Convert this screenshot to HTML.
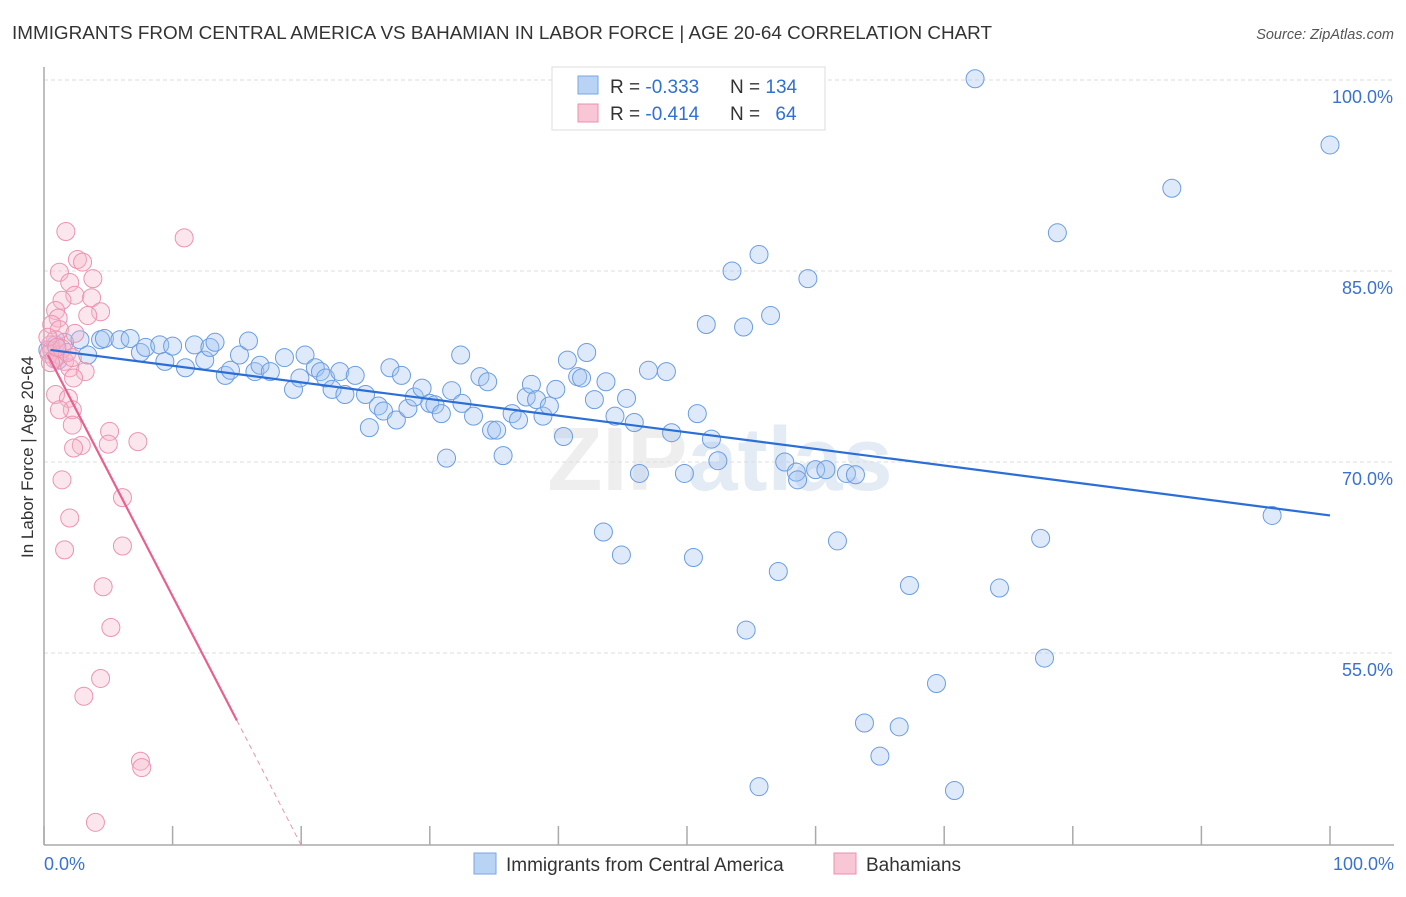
<!DOCTYPE html>
<html><head><meta charset="utf-8"><style>
body{margin:0;background:#fff;font-family:"Liberation Sans",sans-serif}
svg text{font-family:"Liberation Sans",sans-serif}
</style></head><body>
<svg width="1406" height="892" viewBox="0 0 1406 892">
<text x="12" y="39" font-size="18" fill="#333" textLength="980" lengthAdjust="spacingAndGlyphs">IMMIGRANTS FROM CENTRAL AMERICA VS BAHAMIAN IN LABOR FORCE | AGE 20-64 CORRELATION CHART</text>
<text x="1394" y="39" font-size="14.5" fill="#555" font-style="italic" text-anchor="end">Source: ZipAtlas.com</text>
<text x="720" y="490" font-size="90" fill="#eeeeee" text-anchor="middle" font-weight="bold">ZIP<tspan fill="#e3ebf5">atlas</tspan></text>
<g id="grid"></g><g id="axes"></g><g id="blue"></g><g id="pink"></g><g id="trends"></g>
<text transform="translate(33,457) rotate(-90)" font-size="17" fill="#333" text-anchor="middle">In Labor Force | Age 20-64</text>
<g>
<rect x="552" y="67" width="273" height="63" fill="#fff" stroke="#ddd"/>
<rect x="578" y="76" width="20" height="18" fill="#b9d3f5" stroke="#7aa6e3"/>
<rect x="578" y="104" width="20" height="18" fill="#f8c6d5" stroke="#ec8fae"/>
<text x="610" y="93" font-size="19" fill="#333">R = <tspan fill="#2f6fd6">-0.333</tspan></text>
<text x="730" y="93" font-size="19" fill="#333">N = <tspan fill="#2f6fd6">134</tspan></text>
<text x="610" y="120" font-size="19" fill="#333">R = <tspan fill="#2f6fd6">-0.414</tspan></text>
<text x="730" y="120" font-size="19" fill="#333">N = <tspan fill="#2f6fd6" dx="10">64</tspan></text>
</g>
<g>
<rect x="474" y="853" width="22" height="21" fill="#b9d3f5" stroke="#7aa6e3"/>
<text x="506" y="871" font-size="19" fill="#333">Immigrants from Central America</text>
<rect x="834" y="853" width="22" height="21" fill="#f8c6d5" stroke="#ec8fae"/>
<text x="866" y="871" font-size="19" fill="#333">Bahamians</text>
</g>
</svg>
<script>
const blueX=[72.4,100,87.7,78.8,55.6,53.5,59.4,51.5,54.4,56.5,0.9,1.6,2.8,4.4,4.7,5.9,6.7,7.5,7.9,9.0,9.4,10.0,11.0,11.7,12.5,12.9,13.3,14.1,14.5,15.2,15.9,16.4,16.8,17.6,18.7,19.4,19.9,20.3,21.1,21.5,21.9,22.4,23.0,23.4,24.2,25.0,25.3,26.0,26.4,26.9,27.4,27.8,28.3,28.8,29.4,30.0,30.4,30.9,31.3,31.7,32.5,32.4,33.4,33.9,34.5,34.8,35.2,35.7,36.4,36.9,37.5,37.9,38.3,38.8,39.3,39.8,40.4,40.7,41.5,41.8,42.2,42.8,43.5,43.7,44.4,44.9,45.3,45.9,46.3,47.0,48.4,48.8,49.8,50.5,50.8,51.9,52.4,54.6,55.6,57.1,57.6,58.5,58.6,60.0,60.8,61.7,62.4,63.1,63.8,65.0,66.5,67.3,69.4,70.8,74.3,77.5,77.8,95.5,47.7,49.2,0.3,1.1,3.4];
const blueY=[100.1,94.9,91.5,88.0,86.3,85.0,84.4,80.8,80.6,81.5,79.2,79.4,79.6,79.6,79.7,79.6,79.7,78.6,79.0,79.2,77.9,79.1,77.4,79.2,78.0,79.0,79.4,76.8,77.2,78.4,79.5,77.1,77.6,77.1,78.2,75.7,76.6,78.4,77.4,77.1,76.6,75.7,77.1,75.3,76.8,75.3,72.7,74.4,74.0,77.4,73.3,76.8,74.2,75.1,75.8,74.6,74.5,73.8,70.3,75.6,74.6,78.4,73.6,76.7,76.3,72.5,72.5,70.5,73.8,73.3,75.1,76.1,74.9,73.6,74.4,75.7,72.0,78.0,76.7,76.6,78.6,74.9,64.5,76.3,73.6,62.7,75.0,73.1,69.1,77.2,77.1,72.3,69.1,62.5,73.8,71.8,70.1,56.8,44.5,61.4,70.0,69.2,68.6,69.4,69.4,63.8,69.1,69.0,49.5,46.9,49.2,60.3,52.6,44.2,60.1,64.0,54.6,65.8,100.2,100.2,78.8,78.0,78.4];
const pinkX=[1.7,10.9,2.6,3.0,1.2,3.8,2.0,2.4,1.4,3.7,4.4,3.4,0.9,1.1,0.6,1.2,2.4,0.9,0.5,0.6,1.2,1.6,2.0,3.2,2.3,0.9,1.9,2.2,1.2,2.2,5.1,7.3,5.0,2.9,2.3,1.4,6.1,2.0,1.6,6.1,4.6,5.2,4.4,3.1,7.5,7.6,4.0,0.4,0.8,1.4,0.3,1.8,2.2,0.5,1.0];
const pinkY=[88.1,87.6,85.9,85.7,84.9,84.4,84.1,83.1,82.7,82.9,81.8,81.5,81.9,81.3,80.8,80.4,80.1,79.6,79.2,78.8,78.4,77.9,77.4,77.1,76.6,75.3,75.0,74.1,74.1,72.9,72.4,71.6,71.4,71.3,71.1,68.6,67.2,65.6,63.1,63.4,60.2,57.0,53.0,51.6,46.5,46.0,41.7,78.5,78.1,78.9,79.8,78.6,78.2,77.8,79.0];
const yTicks=[100,85,70,55];
const yTickLabels=["100.0%","85.0%","70.0%","55.0%"];
const xTicks=[0,10,20,30,40,50,60,70,80,90,100];
const blueTrend=[0.5,78.8,100,65.8];
const pinkTrendSolid=[0.3,78.4,15,49.7];
const pinkTrendDash=[15,49.7,20,39.9];

const NS="http://www.w3.org/2000/svg";
const sx=v=>44+v*12.86, sy=v=>80+(100-v)*12.733;
function mk(t,a,p){const e=document.createElementNS(NS,t);for(const k in a)e.setAttribute(k,a[k]);p.appendChild(e);return e;}
const grid=document.getElementById('grid'),axes=document.getElementById('axes');
yTicks.forEach((t,i)=>{
 const l=mk('line',{x1:44,x2:1394,y1:sy(t),y2:sy(t),stroke:'#ddd','stroke-dasharray':'4,3'},grid);
 
 
 const tx=mk('text',{x:1393,y:sy(t)+23,'font-size':18,fill:'#3a72d0','text-anchor':'end'},grid);
 tx.textContent=yTickLabels[i];
 
 
});
const ya=mk('line',{x1:44,x2:44,y1:67,y2:845,stroke:'#aaa','stroke-width':1.5},axes);


const xa=mk('line',{x1:44,x2:1394,y1:845,y2:845,stroke:'#aaa','stroke-width':1.5},axes);


xTicks.forEach(t=>{
 const l=mk('line',{x1:sx(t),x2:sx(t),y1:826,y2:845,stroke:'#aaa','stroke-width':1.5},axes);
 
 
});
[[0,'0.0%','start',44],[100,'100.0%','end',1394]].forEach(d=>{
 const tx=mk('text',{x:d[3],y:870,'font-size':18,fill:'#3a72d0','text-anchor':d[2]},axes);
 tx.textContent=d[1];
 
 
});
const bg=document.getElementById('blue'),pg=document.getElementById('pink');
blueX.forEach((x,i)=>{
 const c=mk('circle',{cx:sx(x),cy:sy(blueY[i]),r:9,fill:'rgba(160,196,240,0.35)',stroke:'#6b9de0','stroke-width':1},bg);
 
 
});
pinkX.forEach((x,i)=>{
 const c=mk('circle',{cx:sx(x),cy:sy(pinkY[i]),r:9,fill:'rgba(246,182,203,0.35)',stroke:'#ec93b1','stroke-width':1},pg);
 
 
});
const tg=document.getElementById('trends');
const b=mk('line',{x1:sx(blueTrend[0]),y1:sy(blueTrend[1]),x2:sx(blueTrend[2]),y2:sy(blueTrend[3]),stroke:'#2b6fd6','stroke-width':2.2},tg);


const p=mk('line',{x1:sx(pinkTrendSolid[0]),y1:sy(pinkTrendSolid[1]),x2:sx(pinkTrendSolid[2]),y2:sy(pinkTrendSolid[3]),stroke:'#e8608f','stroke-width':2.2},tg);


const pd=mk('line',{x1:sx(pinkTrendDash[0]),y1:sy(pinkTrendDash[1]),x2:sx(pinkTrendDash[2]),y2:sy(pinkTrendDash[3]),stroke:'#ec93b1','stroke-width':1,'stroke-dasharray':'5,4'},tg);


</script>
</body></html>
